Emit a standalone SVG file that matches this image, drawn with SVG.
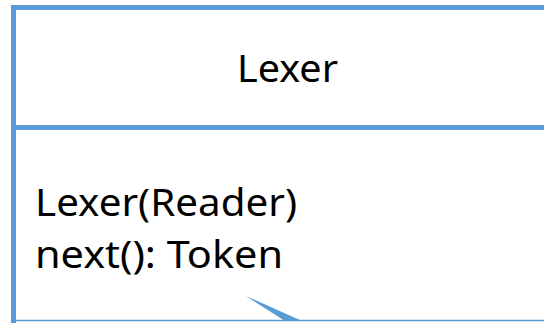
<svg xmlns="http://www.w3.org/2000/svg" width="544" height="323" viewBox="0 0 544 323">
  <style>
    .frame { fill: #ffffff; stroke: #5B9BD5; stroke-width: 5; }
    .rule { stroke: #5B9BD5; stroke-width: 5; fill: none; }
    .edge { stroke: #5B9BD5; stroke-width: 1.6; fill: none; }
    .head { fill: #5B9BD5; stroke: none; }
    .lbl { font-family: "Noto Sans", "Open Sans", "Liberation Sans", sans-serif; font-size: 39px; fill: #000000; }
  </style>
  <rect x="0" y="0" width="544" height="323" fill="#ffffff"/>

  <!-- Lexer class box: name compartment and operations compartment -->
  <g id="lexer">
    <path class="rule" d="M13.5 323 V7.5 H548"/>
    <line class="rule" x1="13.5" y1="127.5" x2="548" y2="127.5"/>
    <text class="lbl" x="287.5" y="82" text-anchor="middle" textLength="101" lengthAdjust="spacingAndGlyphs">Lexer</text>
    <text class="lbl" x="35" y="216" textLength="262" lengthAdjust="spacingAndGlyphs">Lexer(Reader)</text>
    <text class="lbl" x="35" y="268" textLength="248" lengthAdjust="spacingAndGlyphs">next(): Token</text>
  </g>

  <!-- connectors -->
  <g id="connectors">
    <line class="edge" x1="15" y1="320.5" x2="544" y2="320.5"/>
    <polygon class="head" points="246,296 302,321 285,321"/>
  </g>
</svg>
